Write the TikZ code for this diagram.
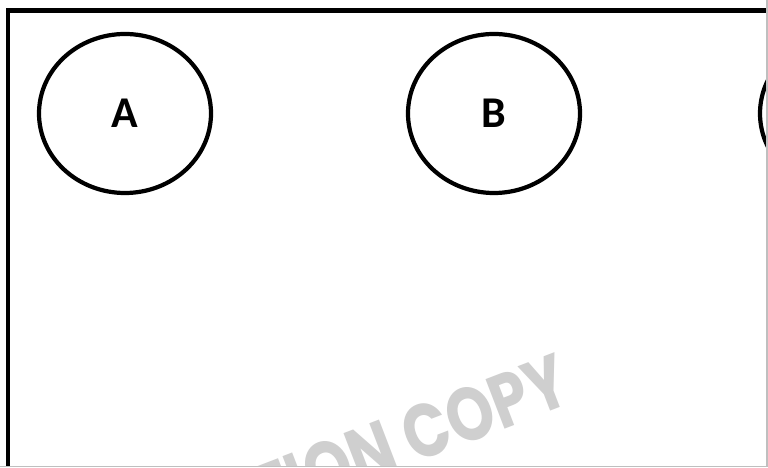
\documentclass[tikz,border=0pt]{standalone}
\usepackage{fontspec}
\setmainfont{Carlito}
\newfontfamily\markfont{Poppins}
\usetikzlibrary{shapes.geometric}
\tikzset{
  venn/.style={ellipse,draw,line width=2.4pt,minimum width=3.440cm,minimum height=3.180cm,
    inner sep=0pt,font=\bfseries\fontsize{25}{25}\selectfont},
  watermark/.style={anchor=base east,rotate=21,xscale=0.8,text=gray!38,inner sep=0pt,
    font=\markfont\bfseries\fontsize{43}{43}\selectfont}
}
\begin{document}
\begin{tikzpicture}
\useasboundingbox (0,0) rectangle (15.360,9.360);
\fill[white] (0,0) rectangle (15.360,9.360);
\begin{scope}
\clip (0,0.030) rectangle (15.320,9.360);
\node[watermark] (mark) at (11.500,1.320) {EVALUATION COPY};
\draw[line width=2.6pt] (0.160,-1.000) -- (0.160,9.150) -- (16.500,9.150);
\node[venn] (setA) at (2.500,7.090) {A};
\node[venn] (setB) at (9.880,7.090) {B};
\node[venn] (setC) at (16.920,7.090) {};
\end{scope}
\draw[line width=1.1pt,gray!50] (15.340,9.360) -- (15.340,0.030) -- (0,0.030);
\end{tikzpicture}
\end{document}
